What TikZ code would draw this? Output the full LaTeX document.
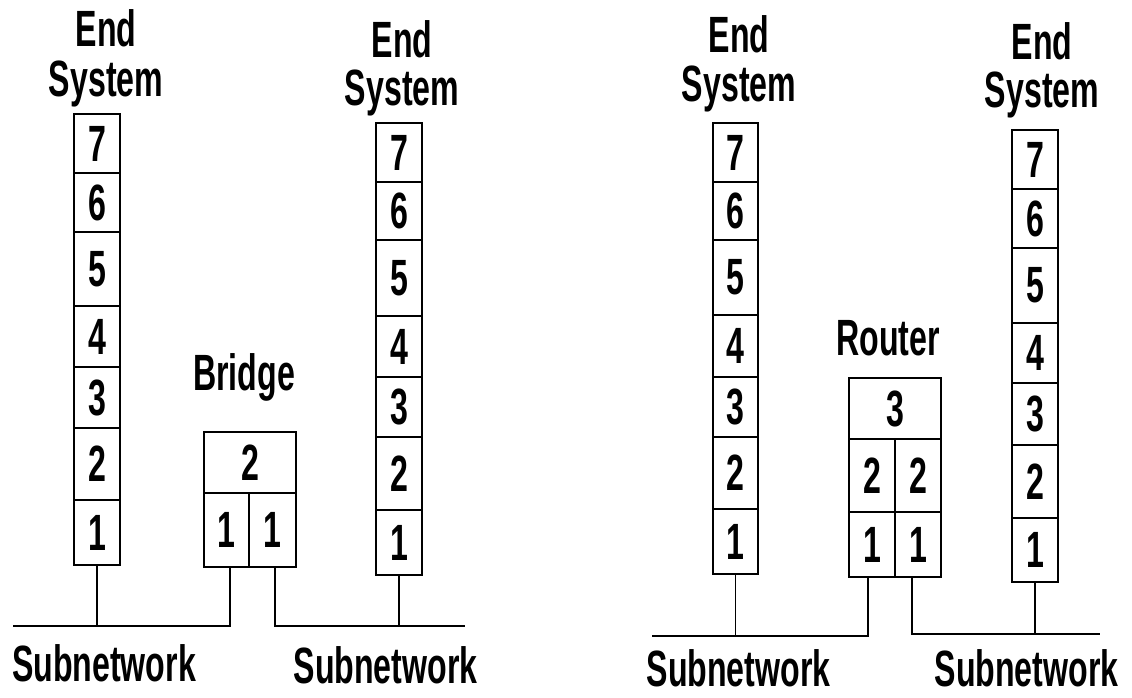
\documentclass[tikz,border=0pt]{standalone}
\usepackage{fontspec}
\newfontfamily\cf[FakeStretch=0.63]{Liberation Sans Bold}
\begin{document}
\begin{tikzpicture}[x=1pt,y=-1pt,
  cell/.style={draw,line width=1.3pt,inner sep=0pt,font=\cf\fontsize{51}{51}\selectfont},
  lbl/.style={anchor=base,inner sep=0pt,font=\cf\fontsize{51}{51}\selectfont},
  wire/.style={line width=1.3pt}]
\useasboundingbox[fill=white] (0,0) rectangle (1132,698);
% Stack A
\node[cell,minimum width=46pt,minimum height=59pt] (A7) at (97,143.5) {7};
\node[cell,minimum width=46pt,minimum height=59pt] (A6) at (97,202.5) {6};
\node[cell,minimum width=46pt,minimum height=74pt] (A5) at (97,269) {5};
\node[cell,minimum width=46pt,minimum height=61pt] (A4) at (97,336.5) {4};
\node[cell,minimum width=46pt,minimum height=61pt] (A3) at (97,397.5) {3};
\node[cell,minimum width=46pt,minimum height=72pt] (A2) at (97,464) {2};
\node[cell,minimum width=46pt,minimum height=65pt] (A1) at (97,532.5) {1};
% Stack B
\node[cell,minimum width=46pt,minimum height=59pt] (B7) at (399,152.5) {7};
\node[cell,minimum width=46pt,minimum height=58pt] (B6) at (399,211) {6};
\node[cell,minimum width=46pt,minimum height=76pt] (B5) at (399,278) {5};
\node[cell,minimum width=46pt,minimum height=61pt] (B4) at (399,346.5) {4};
\node[cell,minimum width=46pt,minimum height=60pt] (B3) at (399,407) {3};
\node[cell,minimum width=46pt,minimum height=73pt] (B2) at (399,473.5) {2};
\node[cell,minimum width=46pt,minimum height=65pt] (B1) at (399,542.5) {1};
% Stack C
\node[cell,minimum width=45pt,minimum height=59pt] (C7) at (735.5,152.5) {7};
\node[cell,minimum width=45pt,minimum height=58pt] (C6) at (735.5,211) {6};
\node[cell,minimum width=45pt,minimum height=75pt] (C5) at (735.5,277.5) {5};
\node[cell,minimum width=45pt,minimum height=62pt] (C4) at (735.5,346) {4};
\node[cell,minimum width=45pt,minimum height=60pt] (C3) at (735.5,407) {3};
\node[cell,minimum width=45pt,minimum height=72pt] (C2) at (735.5,473) {2};
\node[cell,minimum width=45pt,minimum height=65pt] (C1) at (735.5,541.5) {1};
% Stack D
\node[cell,minimum width=46pt,minimum height=59pt] (D7) at (1035,159.5) {7};
\node[cell,minimum width=46pt,minimum height=59pt] (D6) at (1035,218.5) {6};
\node[cell,minimum width=46pt,minimum height=75pt] (D5) at (1035,285.5) {5};
\node[cell,minimum width=46pt,minimum height=60pt] (D4) at (1035,353) {4};
\node[cell,minimum width=46pt,minimum height=62pt] (D3) at (1035,414) {3};
\node[cell,minimum width=46pt,minimum height=73pt] (D2) at (1035,481.5) {2};
\node[cell,minimum width=46pt,minimum height=64pt] (D1) at (1035,550) {1};
% Bridge
\node[cell,minimum width=92pt,minimum height=61pt] (Br2) at (250,462.5) {2};
\node[cell,minimum width=45pt,minimum height=74pt] (Br1L) at (226.5,530) {1};
\node[cell,minimum width=47pt,minimum height=74pt] (Br1R) at (272.5,530) {1};
% Router
\node[cell,minimum width=92pt,minimum height=61pt] (R3) at (895,408.5) {3};
\node[cell,minimum width=46pt,minimum height=73pt] (R2L) at (872,475.5) {2};
\node[cell,minimum width=46pt,minimum height=73pt] (R2R) at (918,475.5) {2};
\node[cell,minimum width=46pt,minimum height=65pt] (R1L) at (872,544.5) {1};
\node[cell,minimum width=46pt,minimum height=65pt] (R1R) at (918,544.5) {1};
% Labels
\node[lbl] (EA1) at (106,47) {End};
\node[lbl] (EA2) at (106,97) {System};
\node[lbl] (EB1) at (402,58) {End};
\node[lbl] (EB2) at (402,106) {System};
\node[lbl] (EC1) at (739,53) {End};
\node[lbl] (EC2) at (739,102) {System};
\node[lbl] (ED1) at (1042,60) {End};
\node[lbl] (ED2) at (1042,108) {System};
\node[lbl] (BrL) at (244,390) {Bridge};
\node[lbl] (RL) at (888,355) {Router};
\node[lbl] (SA) at (104,681) {Subnetwork};
\node[lbl] (SB) at (385.5,683) {Subnetwork};
\node[lbl] (SC) at (738.5,686) {Subnetwork};
\node[lbl] (SD) at (1026.5,686) {Subnetwork};
% Subnetwork lines
\coordinate (n1) at (13,626);
\coordinate (n2) at (465,626);
\coordinate (n3) at (652,636);
\coordinate (n4) at (1100,634);
\draw[wire] (A1.south) -- (A1.south |- n1);
\draw[wire] (n1) -- ([xshift=3.5pt]Br1L.south |- n1) -- ([xshift=3.5pt]Br1L.south);
\draw[wire] ([xshift=2.5pt]Br1R.south) -- ([xshift=2.5pt]Br1R.south |- n2) -- (n2);
\draw[wire] (B1.south) -- (B1.south |- n2);
\draw[wire] (C1.south) -- (C1.south |- n3);
\draw[wire] (n3) -- ([xshift=-4pt]R1L.south |- n3) -- ([xshift=-4pt]R1L.south);
\draw[wire] ([xshift=-6pt]R1R.south) -- ([xshift=-6pt]R1R.south |- n4) -- (n4);
\draw[wire] (D1.south) -- (D1.south |- n4);
\end{tikzpicture}
\end{document}
